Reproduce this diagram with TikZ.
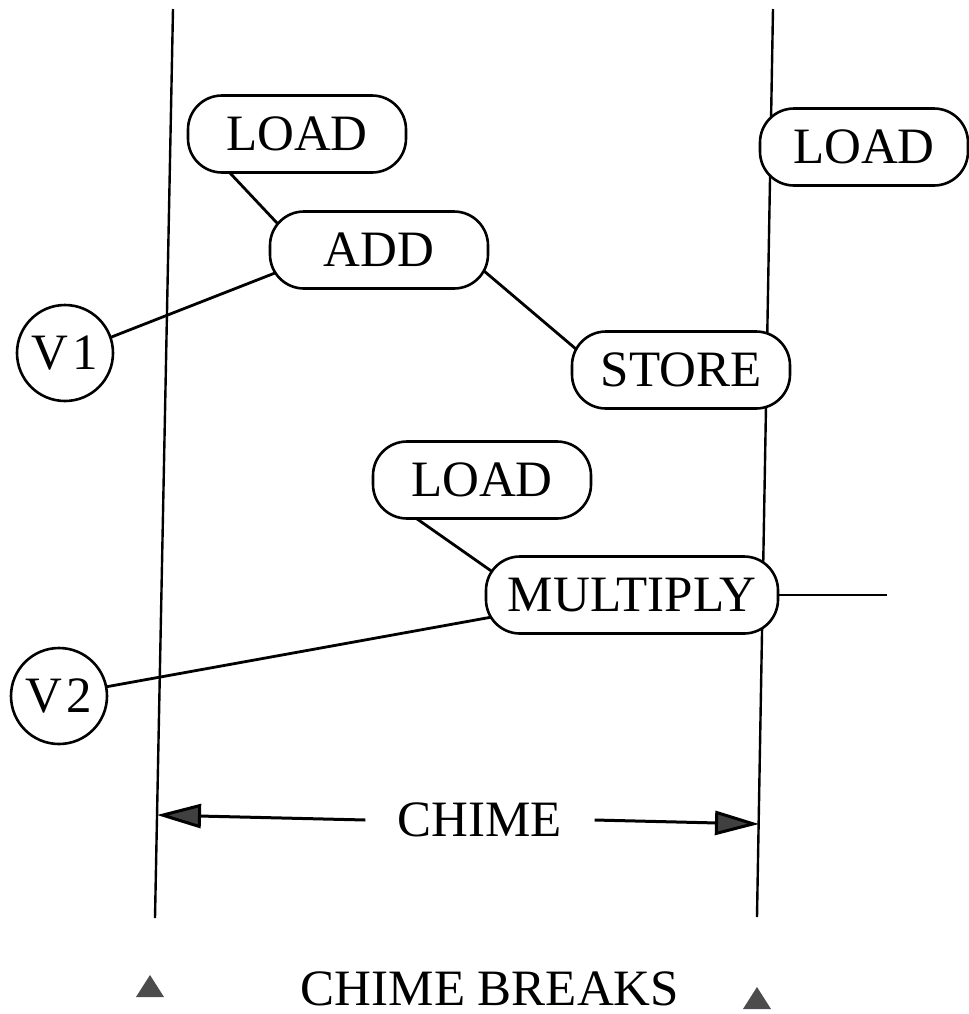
\documentclass[tikz,border=0pt]{standalone}
\usepackage{fontspec}
\setmainfont{Liberation Serif}
\usetikzlibrary{arrows.meta,backgrounds}

\begin{document}
\begin{tikzpicture}[x=0.5pt, y=-0.5pt,
        op/.style={draw, fill=white, rounded corners=17pt, line width=1.3pt, minimum width=109pt, minimum height=38.5pt, inner xsep=11pt, font=\fontsize{25.5pt}{30pt}\selectfont},
        reg/.style={draw, fill=white, circle, line width=1.3pt, minimum size=48pt, inner sep=0pt, font=\fontsize{25.5pt}{30pt}\selectfont},
        lbl/.style={font=\fontsize{25.5pt}{30pt}\selectfont},
        boundary/.style={line width=1.2pt},
        link/.style={line width=1.4pt},
        into/.style={shorten <=-10pt, shorten >=-10pt},
        arrow/.style={-{Triangle[length=22pt, width=12pt, fill=black!75]}, line width=1.5pt},
        brk/.style={fill=black!70}
    ]
        \useasboundingbox (0,0) rectangle (969,1014);

        % Chime boundaries
        \coordinate (ltop) at (173,9);
        \coordinate (lbot) at (155,918);
        \coordinate (rtop) at (773,9);
        \coordinate (rbot) at (757,917);
        \draw[boundary] (ltop) -- (lbot);
        \draw[boundary] (rtop) -- (rbot);

        % Operations & vector registers
        \node[op] (load1) at (297,134) {LOAD};
        \node[op] (add) at (379,250) {ADD};
        \node[op] (store) at (681,370) {STORE};
        \node[op, minimum width=104pt] (load2) at (864,147) {LOAD};
        \node[op] (load3) at (482,480) {LOAD};
        \node[op] (mult) at (632,595) {MULTIPLY};
        \node[reg] (v1) at (65,353) {V\kern2pt1};
        \node[reg] (v2) at (59,696) {V\kern2pt2};

        % Connections
        \begin{pgfonlayer}{background}
            \draw[link, into] (load1.211) -- (add.162);
            \draw[link, into] (v1.19) -- (add.193);
            \draw[link, into] (add.-13) -- (store.167);
            \draw[link, into] (load3.212) -- (mult.169);
            \draw[link, into] (v2.11) -- (mult.189);
        \end{pgfonlayer}
        \coordinate (mout) at (887,595);
        \draw[link] (mult.east) -- (mout);

        % Chime span
        \node[lbl, inner xsep=16pt] (chime) at (480,820) {CHIME};
        \coordinate (ltip) at (157,815);
        \coordinate (rtip) at (759,824);
        \draw[arrow] (chime.west) -- (ltip);
        \draw[arrow] (chime.east) -- (rtip);

        % Chime breaks
        \node[lbl, anchor=base] (breaks) at (490,1005) {CHIME BREAKS};
        \coordinate (brkl) at (150,975);
        \coordinate (brkr) at (757,987);
        \fill[brk] (brkl) -- ++(-14,22) -- ++(28,0) -- cycle;
        \fill[brk] (brkr) -- ++(-14,22) -- ++(28,0) -- cycle;
    \end{tikzpicture}
\end{document}
